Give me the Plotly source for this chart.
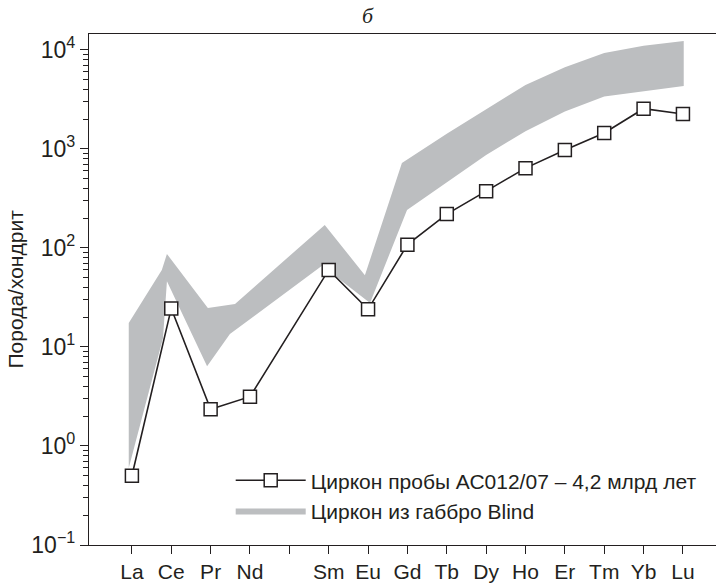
import plotly.graph_objects as go

# Elements (positions 0..14; Pm position is left blank)
elements = ["La", "Ce", "Pr", "Nd", "", "Sm", "Eu", "Gd", "Tb", "Dy", "Ho", "Er", "Tm", "Yb", "Lu"]
positions = list(range(len(elements)))

# Zircon of sample AC012/07 (chondrite-normalised)
sample_pos = [0, 1, 2, 3, 5, 6, 7, 8, 9, 10, 11, 12, 13, 14]
sample_val = [0.50, 24.5, 2.35, 3.15, 60, 24, 108, 220, 375, 640, 975, 1450, 2550, 2250]

# Band: zircon from Blind gabbro (upper and lower envelopes)
band_upper_pos = [-0.08, 0.76, 0.89, 1.93, 2.62, 4.90, 5.92, 6.86, 8, 9, 10, 11, 12, 13, 14.02]
band_upper_val = [17.5, 60, 87, 24.8, 27.2, 171, 53, 722, 1420, 2530, 4430, 6700, 9300, 11000, 12300]
band_lower_pos = [-0.08, 0.79, 0.89, 1.91, 2.49, 4.83, 6.05, 6.99, 8, 9, 10, 11, 12, 13, 14.02]
band_lower_val = [0.6, 12.3, 46, 6.4, 13.5, 66, 27.8, 242, 464, 870, 1510, 2390, 3390, 3850, 4330]

ytick_vals = [0.1, 1, 10, 100, 1000, 10000]
ytick_text = ["10<sup>−1</sup>", "10<sup>0</sup>", "10<sup>1</sup>", "10<sup>2</sup>", "10<sup>3</sup>", "10<sup>4</sup>"]

FONT = "Arial"
INK = "#231f20"
BAND = "#bcbec0"

fig = go.Figure()

fig.add_trace(go.Scatter(
    x=band_upper_pos + band_lower_pos[::-1],
    y=band_upper_val + band_lower_val[::-1],
    fill="toself", fillcolor=BAND, mode="lines",
    line=dict(width=0, color=BAND),
    name="Циркон из габбро Blind",
    legendgroup="b", legendrank=2, hoverinfo="skip",
))

fig.add_trace(go.Scatter(
    x=sample_pos, y=sample_val, mode="lines+markers",
    line=dict(color=INK, width=1.6),
    marker=dict(symbol="square", size=13, color="white", line=dict(color=INK, width=1.5)),
    name="Циркон пробы АС012/07 – 4,2 млрд лет",
    legendgroup="a", legendrank=1,
))

fig.update_layout(
    width=716, height=583,
    margin=dict(l=89, r=0, t=34, b=36),
    paper_bgcolor="white", plot_bgcolor="white",
    font=dict(family=FONT, size=21, color=INK),
    showlegend=True,
    legend=dict(
        x=0.226, y=0.166, xanchor="left", yanchor="top",
        bgcolor="rgba(0,0,0,0)", traceorder="grouped", tracegroupgap=0,
        itemwidth=70,
        font=dict(family=FONT, size=21, color=INK),
    ),
    xaxis=dict(
        range=[-1.09, 14.84],
        tickmode="array", tickvals=positions, ticktext=elements,
        ticks="outside", ticklen=8, tickwidth=1.2, tickcolor=INK,
        showline=True, linecolor=INK, linewidth=1.3, mirror=True,
        showgrid=False, zeroline=False,
        tickfont=dict(family=FONT, size=21, color=INK),
    ),
    yaxis=dict(
        type="log", range=[-1, 4.161],
        tickmode="array", tickvals=ytick_vals, ticktext=ytick_text,
        ticks="outside", ticklen=8, tickwidth=1.2, tickcolor=INK,
        minor=dict(ticks="outside", ticklen=5, tickwidth=1, tickcolor=INK, dtick="D1", showgrid=False),
        showline=True, linecolor=INK, linewidth=1.3,
        showgrid=False, zeroline=False,
        tickfont=dict(family=FONT, size=23, color=INK),
    ),
    annotations=[
        dict(text="Порода/хондрит", xref="paper", yref="paper",
             x=-0.118, y=0.5, textangle=-90, showarrow=False,
             xanchor="center", yanchor="middle",
             font=dict(family=FONT, size=21, color=INK)),
        dict(text="<i>б</i>", xref="paper", yref="paper",
             x=0.445, y=1.037, showarrow=False, xanchor="center", yanchor="middle",
             font=dict(family="Liberation Serif, Times New Roman, serif", size=22, color=INK)),
    ],
)

fig.write_html("out.html")
